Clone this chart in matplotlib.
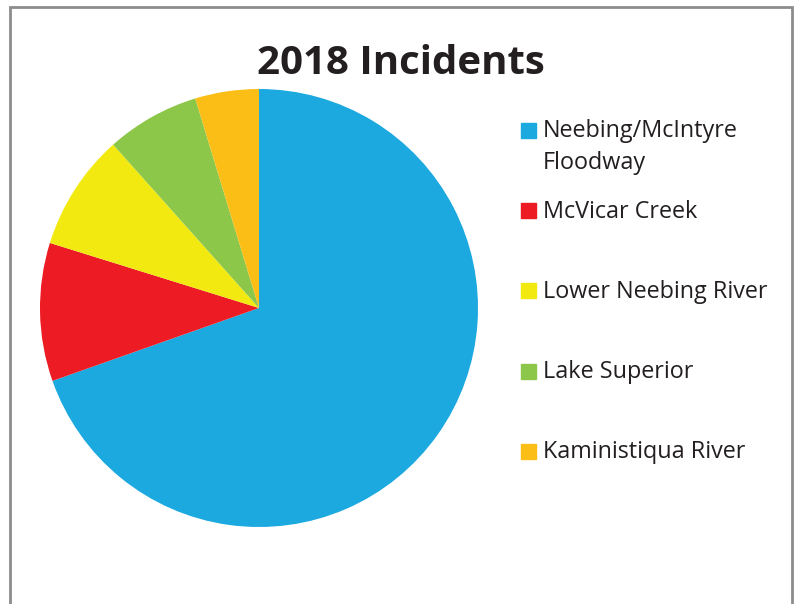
import matplotlib.pyplot as plt
from matplotlib.patches import Rectangle

# Share of 2018 incidents by location (percent)
locations = ['Neebing/McIntyre\nFloodway', 'McVicar Creek', 'Lower Neebing River',
             'Lake Superior', 'Kaministiqua River']
shares = [69.6, 10.2, 8.6, 6.9, 4.7]
colors = ['#1BA9E0', '#ED1C24', '#F2E911', '#8DC74A', '#FBBE17']

W, H = 797, 604
fig = plt.figure(figsize=(W / 100, H / 100), dpi=100)
plt.rcParams['font.family'] = ['Open Sans', 'DejaVu Sans']

# outer chart border (runs off the bottom of the image)
fig.patches.append(Rectangle((10 / W, -0.1), (792 - 10) / W, 1.1 - 7 / H,
                             transform=fig.transFigure, fill=False,
                             edgecolor='#8c8c8c', linewidth=2))

# pie: centre (259, 308) px, radius 219 px
cx, cy, r = 259, 308, 219
ax = fig.add_axes([(cx - r) / W, 1 - (cy + r) / H, 2 * r / W, 2 * r / H])
ax.pie(shares, colors=colors, startangle=90, counterclock=False, radius=1,
       wedgeprops=dict(linewidth=0))
ax.set_xlim(-1, 1)
ax.set_ylim(-1, 1)
ax.axis('off')

fig.text(401 / W, 1 - 74 / H, '2018 Incidents', ha='center', va='baseline',
         fontsize=29, fontweight='bold', color='#231f20')

# legend drawn by hand to keep Excel's uneven spacing
row_y = [130, 211, 291, 371, 451]
for lab, col, y in zip(locations, colors, row_y):
    fig.patches.append(Rectangle((521 / W, 1 - (y + 7.5) / H), 15 / W, 15 / H,
                                 transform=fig.transFigure, color=col))
    for k, line in enumerate(lab.split('\n')):
        fig.text(543 / W, 1 - (y + 7 + 32 * k) / H, line, ha='left',
                 va='baseline', fontsize=16.8, color='#231f20')

fig.savefig('out.png', dpi=100)
